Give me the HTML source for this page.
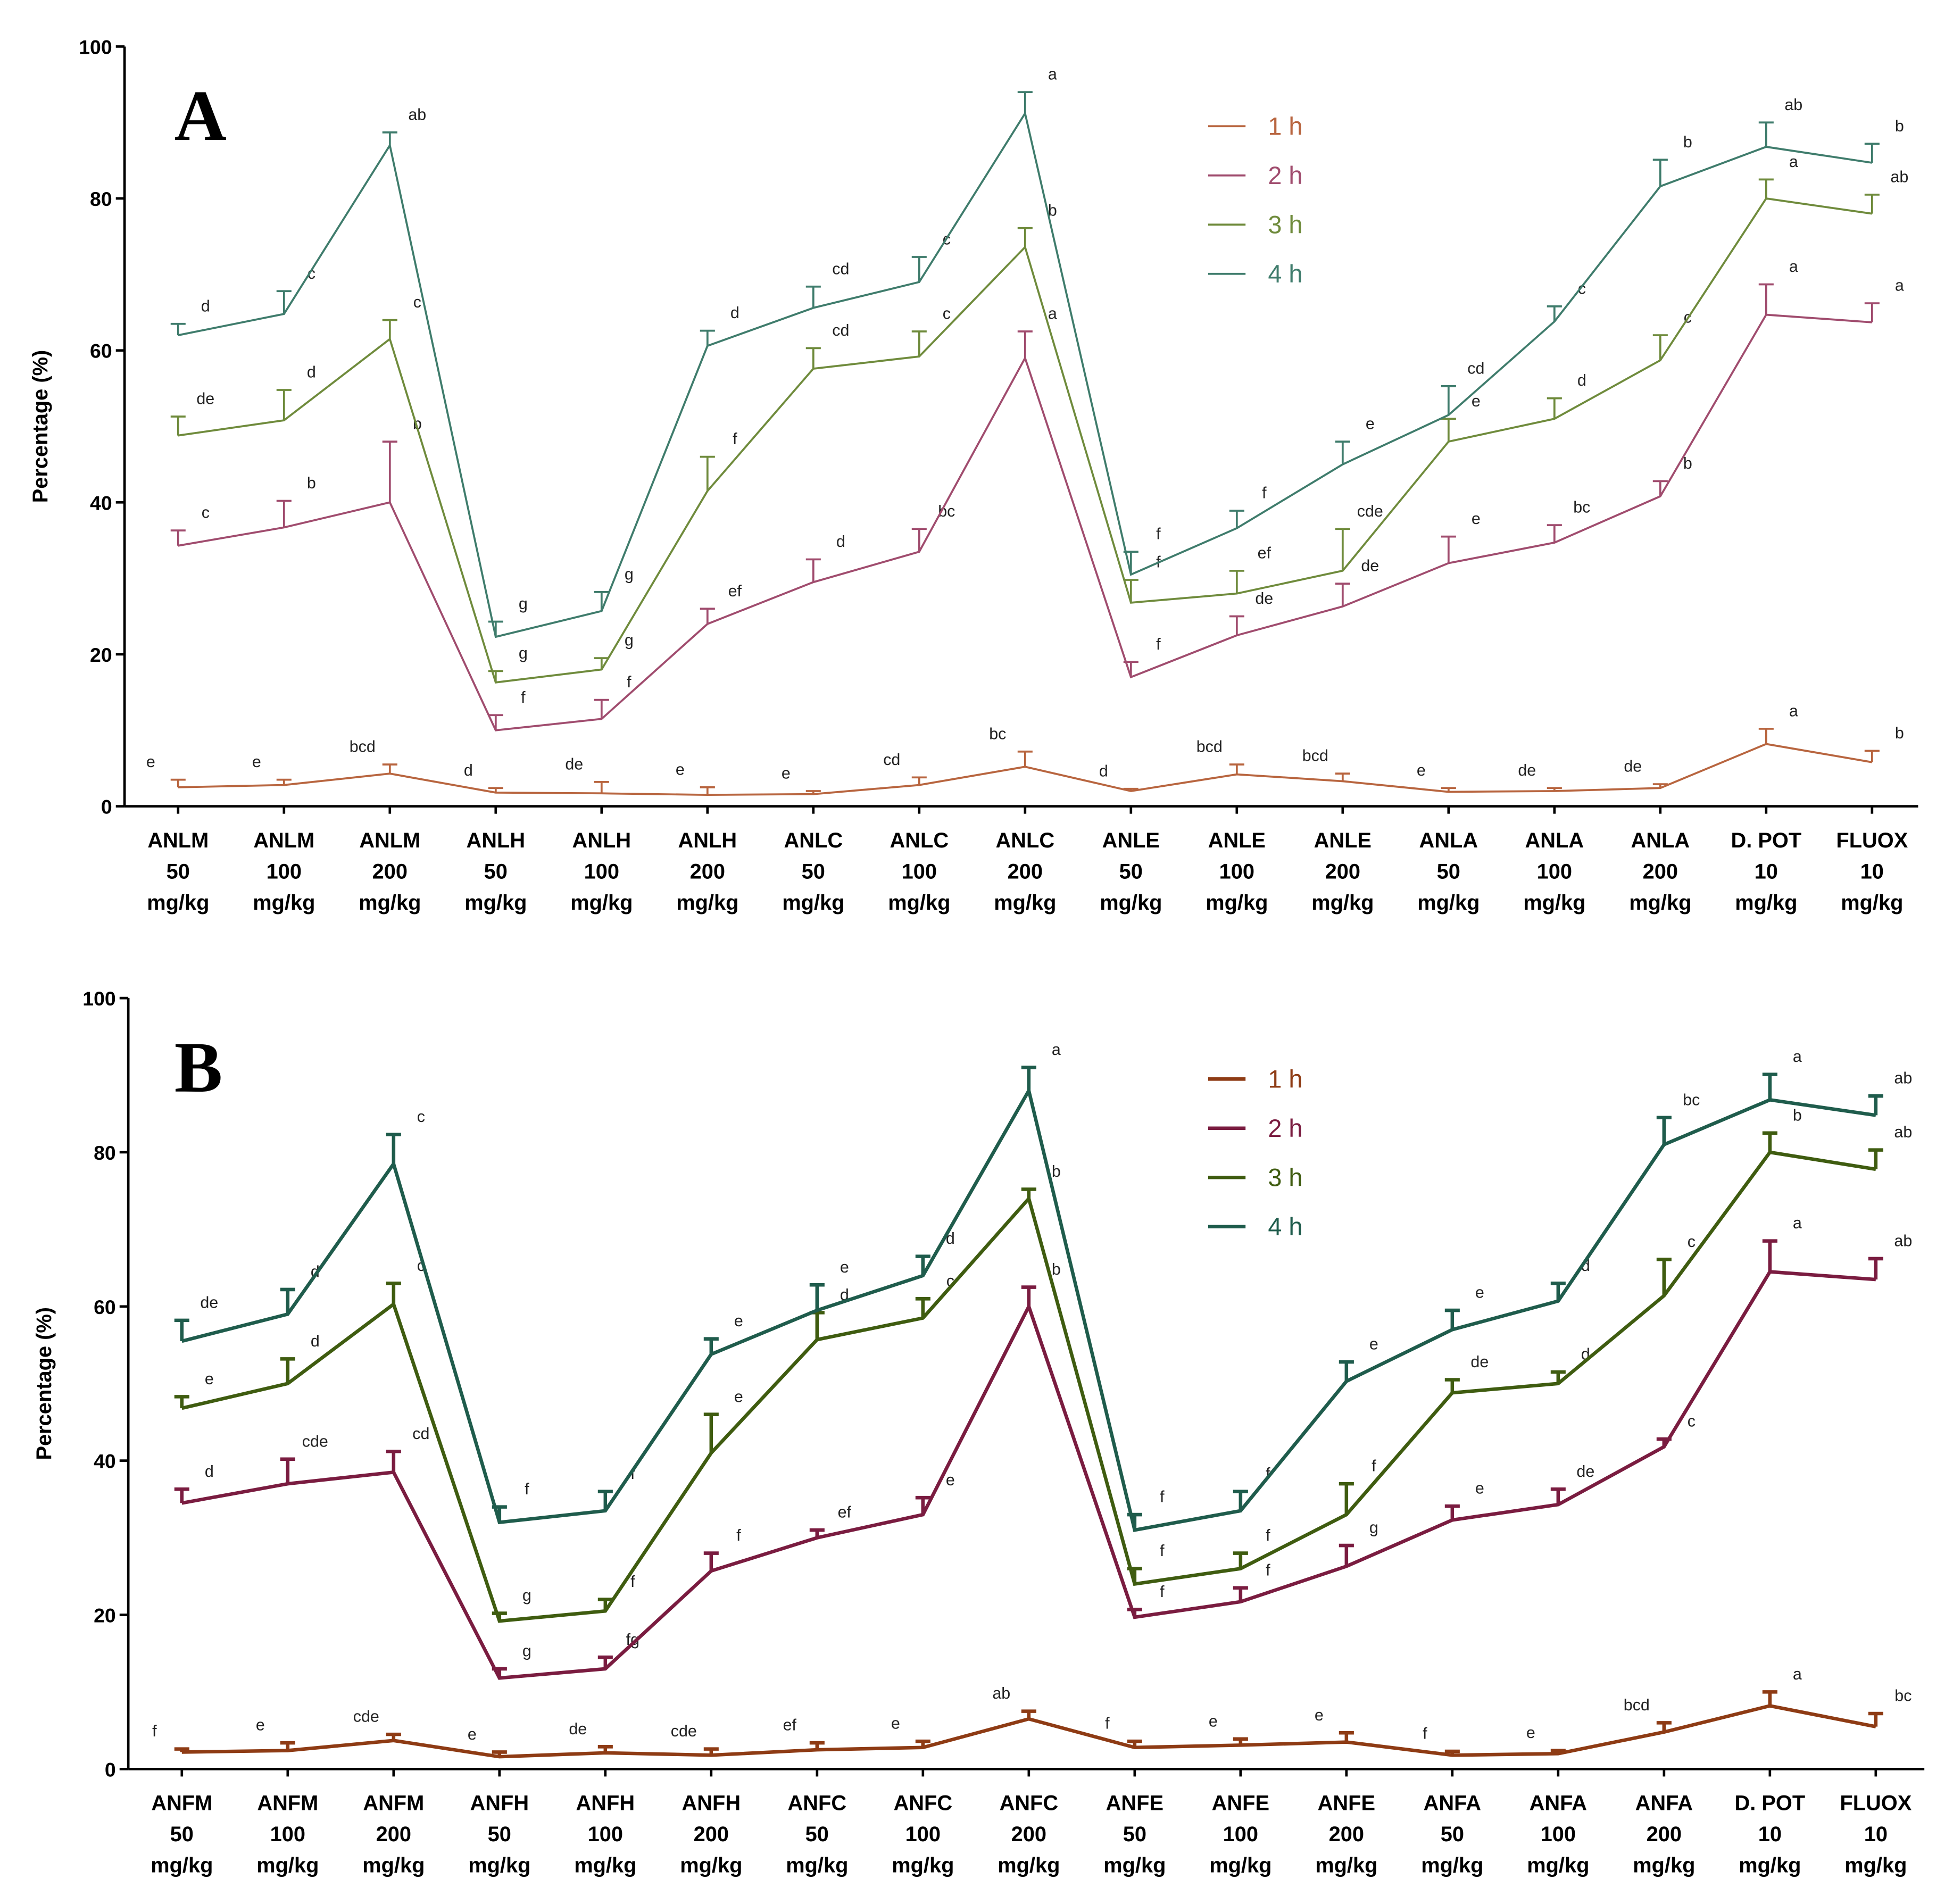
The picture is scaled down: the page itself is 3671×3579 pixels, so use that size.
<!DOCTYPE html>
<html><head><meta charset="utf-8"><style>
html,body{margin:0;padding:0;background:#fff}
svg{display:block}
text{font-family:"Liberation Sans",Arial,sans-serif}
</style></head><body>
<svg id="chart" width="3671" height="3579" viewBox="0 0 1568 1528" xmlns="http://www.w3.org/2000/svg"></svg>
<script>
const categoriesA = [["ANLM","50","mg/kg"],["ANLM","100","mg/kg"],["ANLM","200","mg/kg"],["ANLH","50","mg/kg"],["ANLH","100","mg/kg"],["ANLH","200","mg/kg"],["ANLC","50","mg/kg"],["ANLC","100","mg/kg"],["ANLC","200","mg/kg"],["ANLE","50","mg/kg"],["ANLE","100","mg/kg"],["ANLE","200","mg/kg"],["ANLA","50","mg/kg"],["ANLA","100","mg/kg"],["ANLA","200","mg/kg"],["D. POT","10","mg/kg"],["FLUOX","10","mg/kg"]];
const categoriesB = [["ANFM","50","mg/kg"],["ANFM","100","mg/kg"],["ANFM","200","mg/kg"],["ANFH","50","mg/kg"],["ANFH","100","mg/kg"],["ANFH","200","mg/kg"],["ANFC","50","mg/kg"],["ANFC","100","mg/kg"],["ANFC","200","mg/kg"],["ANFE","50","mg/kg"],["ANFE","100","mg/kg"],["ANFE","200","mg/kg"],["ANFA","50","mg/kg"],["ANFA","100","mg/kg"],["ANFA","200","mg/kg"],["D. POT","10","mg/kg"],["FLUOX","10","mg/kg"]];
const seriesNames = ["1 h","2 h","3 h","4 h"];
const yTicks = [0,20,40,60,80,100];

const a1 = [2.5,2.8,4.3,1.8,1.7,1.5,1.6,2.8,5.2,2.0,4.2,3.3,1.9,2.0,2.4,8.2,5.8];
const a1e = [1,0.7,1.2,0.6,1.5,1,0.4,1,2,0.3,1.3,1,0.5,0.4,0.5,2,1.5];
const a2 = [34.3,36.7,40,10,11.5,24,29.5,33.5,59,17,22.5,26.3,32,34.7,40.8,64.7,63.7];
const a2e = [2,3.5,8,2,2.5,2,3,3,3.5,2,2.5,3,3.5,2.3,2,4,2.5];
const a3 = [48.8,50.8,61.5,16.3,18,41.5,57.6,59.2,73.6,26.8,28,31,48,51,58.7,80,78];
const a3e = [2.5,4,2.5,1.5,1.5,4.5,2.7,3.3,2.5,3,3,5.5,3,2.7,3.3,2.5,2.5];
const a4 = [62,64.8,87,22.3,25.7,60.6,65.6,69,91.2,30.5,36.6,45,51.5,63.8,81.6,86.8,84.7];
const a4e = [1.5,3,1.7,2,2.5,2,2.8,3.3,2.8,3,2.3,3,3.8,2,3.5,3.2,2.5];
const aL1 = ["e","e","bcd","d","de","e","e","cd","bc","d","bcd","bcd","e","de","de","a","b"];
const aL2 = ["c","b","b","f","f","ef","d","bc","a","f","de","de","e","bc","b","a","a"];
const aL3 = ["de","d","c","g","g","f","cd","c","b","f","ef","cde","e","d","c","a","ab"];
const aL4 = ["d","c","ab","g","g","d","cd","c","a","f","f","e","cd","c","b","ab","b"];

const b1 = [2.2,2.4,3.7,1.6,2.1,1.8,2.5,2.8,6.5,2.8,3.1,3.5,1.8,2.0,4.8,8.2,5.5];
const b1e = [0.4,1,0.8,0.6,0.8,0.8,0.9,0.8,1,0.8,0.8,1.2,0.5,0.4,1.2,1.8,1.7];
const b2 = [34.5,37,38.5,11.8,13,25.7,30,33,60,19.7,21.7,26.3,32.3,34.3,41.8,64.5,63.5];
const b2e = [1.8,3.2,2.7,1.2,1.5,2.3,1,2.2,2.5,1,1.8,2.7,1.8,2,1,4,2.7];
const b3 = [46.8,50,60.3,19.2,20.5,41,55.7,58.5,74,24,26,33,48.8,50,61.4,80,77.8];
const b3e = [1.5,3.2,2.7,1,1.5,5,3.5,2.5,1.2,2,2,4,1.7,1.5,4.7,2.5,2.5];
const b4 = [55.5,59,78.5,32,33.5,53.8,59.5,64,88,31,33.5,50.3,57,60.7,81,86.8,84.8];
const b4e = [2.7,3.2,3.8,2,2.5,2,3.3,2.5,3,2,2.5,2.5,2.5,2.3,3.5,3.3,2.5];
const bL1 = ["f","e","cde","e","de","cde","ef","e","ab","f","e","e","f","e","bcd","a","bc"];
const bL2 = ["d","cde","cd","g","fg","f","ef","e","b","f","f","g","e","de","c","a","ab"];
const bL3 = ["e","d","c","g","f","e","d","c","b","f","f","f","de","d","c","b","ab"];
const bL4 = ["de","d","c","f","f","e","e","d","a","f","f","e","e","d","bc","a","ab"];

const NS="http://www.w3.org/2000/svg";
const svg=document.getElementById('chart');
function mk(tag,attrs,parent){const e=document.createElementNS(NS,tag);for(const k in attrs)e.setAttribute(k,attrs[k]);(parent||svg).appendChild(e);return e;}

function drawPanel(p){
  const g=mk('g',{});
  
  
  const y=v=>p.y0-(v/100)*(p.y0-p.y100);
  const x=i=>p.x0+i*p.dx;
  const ax=mk('line',{x1:p.ax,y1:p.y100,x2:p.ax,y2:p.y0,stroke:'#000','stroke-width':2},g);
  
  const xx=mk('line',{x1:p.ax,y1:p.y0,x2:p.xend,y2:p.y0,stroke:'#000','stroke-width':2},g);
  
  yTicks.forEach(t=>{
    mk('line',{x1:p.ax-7,y1:y(t),x2:p.ax,y2:y(t),stroke:'#000','stroke-width':2},g);
    const tl=mk('text',{x:p.ax-10,y:y(t)+6,'text-anchor':'end','font-size':16,'font-weight':'bold'},g);
    tl.textContent=t;
    
  });
  const yt=mk('text',{x:0,y:0,transform:`translate(${p.ax-62},${(p.y0+p.y100)/2}) rotate(-90)`,'text-anchor':'middle','font-size':17,'font-weight':'bold'},g);
  yt.textContent='Percentage (%)';
  
  p.cats.forEach((c,i)=>{
    mk('line',{x1:x(i),y1:p.y0,x2:x(i),y2:p.y0+6,stroke:'#000','stroke-width':2},g);
    c.forEach((s,j)=>{
      const t=mk('text',{x:x(i),y:p.y0+33+j*25,'text-anchor':'middle','font-size':17,'font-weight':'bold'},g);
      t.textContent=s;
      
    });
  });
  const pl=mk('text',{x:140,y:p.y100+75,'font-size':58,'font-weight':'bold',style:'font-family:"Liberation Serif",serif'},g);
  pl.textContent=p.id;
  
  p.series.forEach((s,k)=>{
    const sg=mk('g',{},g);
    
    s.v.forEach((v,i)=>{
      const top=y(v+s.e[i]);
      mk('line',{x1:x(i),y1:y(v),x2:x(i),y2:top,stroke:p.colors[k],'stroke-width':p.sw},sg);
      mk('line',{x1:x(i)-6,y1:top,x2:x(i)+6,y2:top,stroke:p.colors[k],'stroke-width':p.sw},sg);
      const lt=mk('text',{x:x(i)+(k===0&&i<15?-22:22),y:top-10,'text-anchor':'middle','font-size':13,fill:'#222'},sg);
      lt.textContent=s.l[i];
      
    });
    const pts=s.v.map((v,i)=>x(i)+','+y(v)).join(' ');
    const line=mk('polyline',{points:pts,fill:'none',stroke:p.colors[k],'stroke-width':p.sw,'stroke-linejoin':'miter'},sg);
    
    const ly=p.legY+k*39.5;
    const le=mk('g',{},g);
    
    mk('line',{x1:970,y1:ly,x2:1000,y2:ly,stroke:p.colors[k],'stroke-width':p.sw},le);
    const lt=mk('text',{x:1018,y:ly+7,'font-size':20,fill:p.colors[k]},le);
    lt.textContent=seriesNames[k];
  });
}
drawPanel({id:'A',ax:100,xend:1540,x0:143,dx:85,y0:647,y100:37,sw:1.6,legY:101,cats:categoriesA,
  colors:['#b8653f','#a04c6e','#6f8b3c','#3f7c6c'],
  series:[{v:a1,e:a1e,l:aL1},{v:a2,e:a2e,l:aL2},{v:a3,e:a3e,l:aL3},{v:a4,e:a4e,l:aL4}]});
drawPanel({id:'B',ax:103,xend:1545,x0:146,dx:85,y0:1420,y100:801,sw:2.8,legY:866,cats:categoriesB,
  colors:['#8e3b14','#7a1c40','#3f5c10','#1f5c4c'],
  series:[{v:b1,e:b1e,l:bL1},{v:b2,e:b2e,l:bL2},{v:b3,e:b3e,l:bL3},{v:b4,e:b4e,l:bL4}]});
</script>
</body></html>
